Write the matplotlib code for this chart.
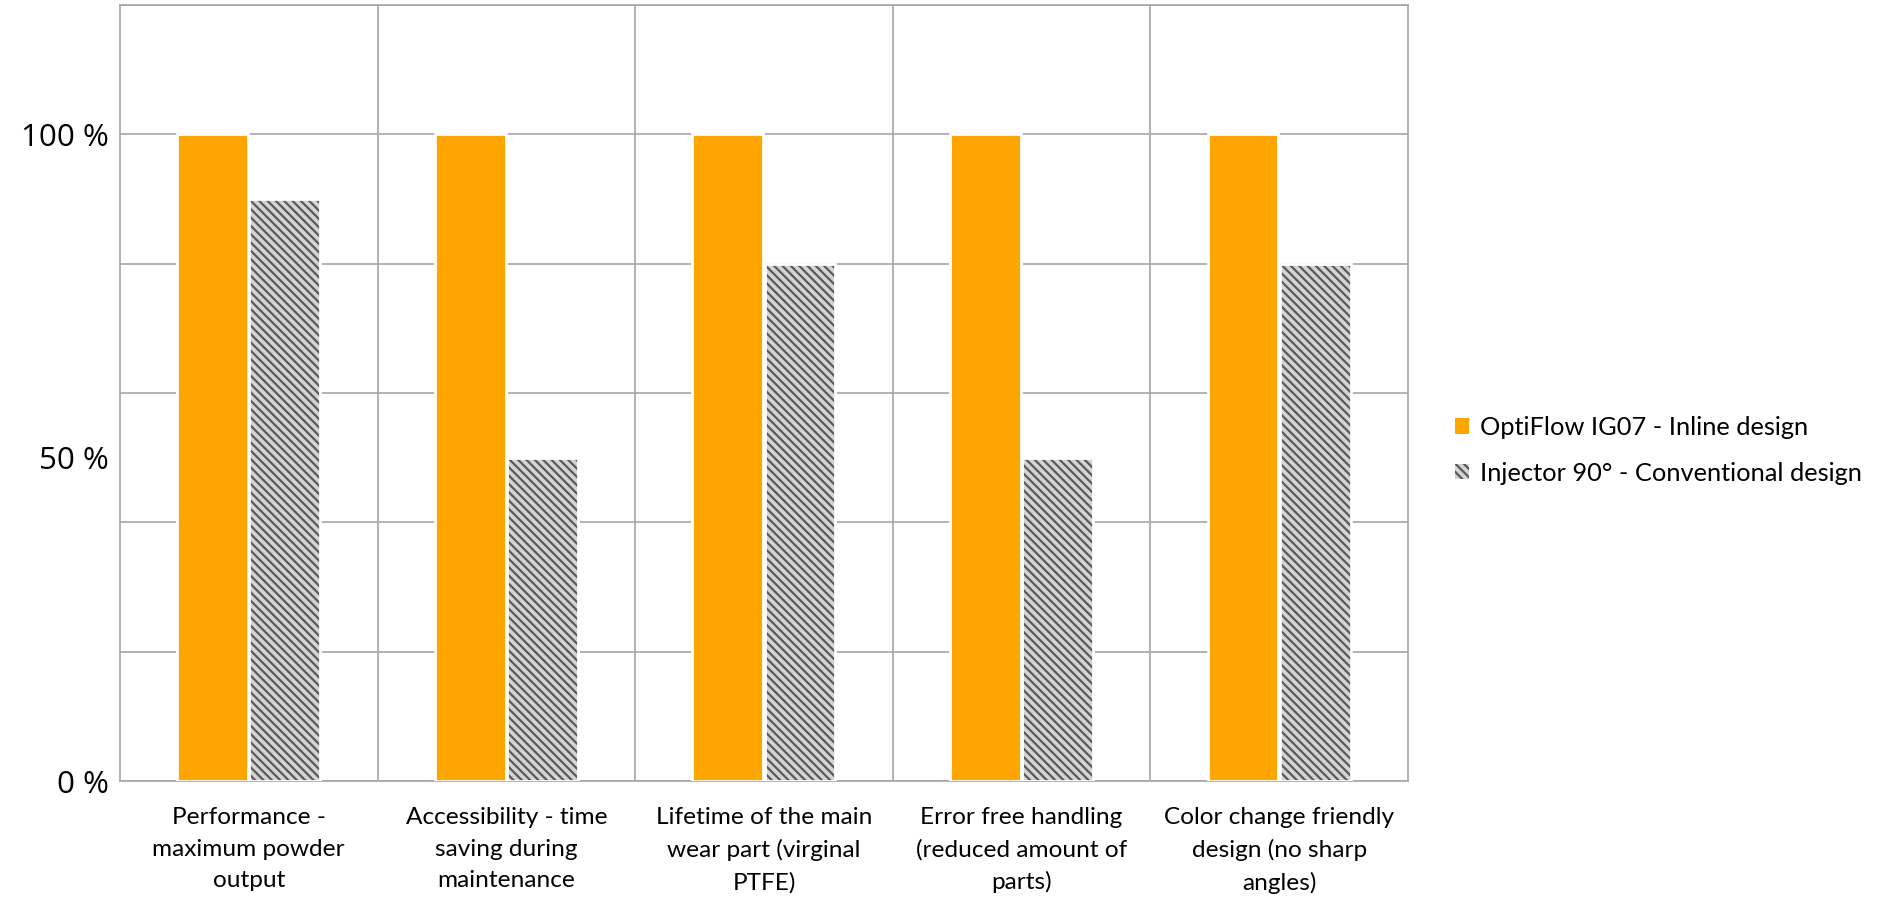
import numpy as np
import matplotlib.pyplot as plt
from matplotlib.patches import Patch

# Chart data
categories = [
    "Performance -\nmaximum powder\noutput",
    "Accessibility - time\nsaving during\nmaintenance",
    "Lifetime of the main\nwear part (virginal\nPTFE)",
    "Error free handling\n(reduced amount of\nparts)",
    "Color change friendly\ndesign (no sharp\nangles)",
]
optiflow = [100, 100, 100, 100, 100]
injector = [90, 50, 80, 50, 80]
series_names = ["OptiFlow IG07 - Inline design", "Injector 90° - Conventional design"]

plt.rcParams["hatch.linewidth"] = 1.6

fig = plt.figure(figsize=(18.78, 8.97), dpi=100)
ax = fig.add_axes([0.0639, 0.1293, 0.6858, 0.8651])

x = np.arange(len(categories))
width = 0.275
offset = 0.14
hatch = "\\\\\\\\"

ax.bar(x - offset, optiflow, width, color="#ffa500", edgecolor="white", linewidth=2, zorder=3)
# hatched bars: hatch takes the edge colour, so draw a white outline on top
ax.bar(x + offset, injector, width, color="#d4d4d4", hatch=hatch,
       edgecolor="#5a5a5a", linewidth=0, zorder=3)
ax.bar(x + offset, injector, width, fill=False, edgecolor="white", linewidth=2, zorder=4)

ax.set_xlim(-0.5, len(categories) - 0.5)
ax.set_ylim(0, 120)

# horizontal grid every 20 %, labels at 0/50/100 %
for yv in range(0, 121, 20):
    ax.axhline(yv, color="#a6a6a6", linewidth=1.2, zorder=1)
for xv in np.arange(0.5, len(categories) - 0.5, 1):
    ax.axvline(xv, color="#a6a6a6", linewidth=1.2, zorder=1)

ax.set_yticks([0, 50, 100])
ax.set_yticklabels(["0 %", "50 %", "100 %"], fontsize=22.5, family="Open Sans")
ax.set_xticks(x)
ax.set_xticklabels(categories, fontsize=17.6, family="Lato", linespacing=1.6)
ax.tick_params(axis="both", length=0)
ax.tick_params(axis="y", pad=8)
ax.tick_params(axis="x", pad=19)

for s in ax.spines.values():
    s.set_color("#a6a6a6")
    s.set_linewidth(1.2)

handles = [
    Patch(facecolor="#ffa500", edgecolor="#ffa500", linewidth=0),
    Patch(facecolor="#d4d4d4", hatch=hatch, edgecolor="#5a5a5a", linewidth=0),
]
fig.legend(handles, series_names, loc="center left", bbox_to_anchor=(0.7625, 0.498),
           frameon=False, prop={"family": "Lato", "size": 18.3},
           handlelength=0.55, handleheight=0.55, handletextpad=0.45, labelspacing=0.9)

fig.savefig("out.png", dpi=100)
